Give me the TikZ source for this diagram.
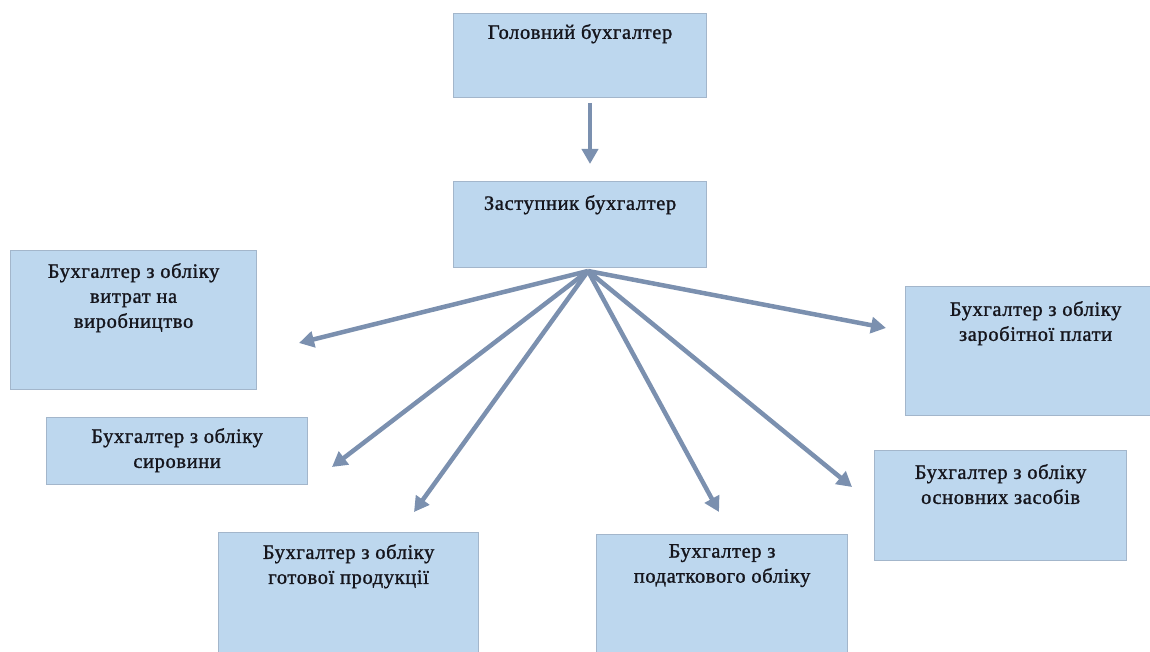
\documentclass[tikz,border=0pt]{standalone}
\usepackage{fontspec}
\setmainfont{Liberation Serif}
\usetikzlibrary{arrows.meta}
\definecolor{boxfill}{HTML}{BDD7EE}
\definecolor{boxline}{HTML}{A3B6CB}
\definecolor{arrowc}{HTML}{7B90AF}
\definecolor{txt}{HTML}{15151C}
\tikzset{
  box/.style={draw=boxline, fill=boxfill, line width=1.2pt, rectangle, inner sep=0pt, anchor=north west},
  lbl/.style={font=\addfontfeature{LetterSpace=3,FakeBold=1.2}\fontsize{20.5}{25}\selectfont, text=txt, align=center, anchor=north, inner sep=0pt},
  conn/.style={draw=arrowc, line width=4.5pt, -{Triangle[length=15pt,width=16pt]}}
}
\begin{document}
\begin{tikzpicture}[x=1pt,y=-1pt]
\useasboundingbox (0,0) rectangle (1150,652);
% boxes
\node[box, minimum width=253pt, minimum height=84pt] (head) at (453,13) {};
\node[box, minimum width=253pt, minimum height=86pt] (dep) at (453,181) {};
\node[box, minimum width=246pt, minimum height=139pt] (vytr) at (10,250) {};
\node[box, minimum width=261pt, minimum height=67pt] (syr) at (46,417) {};
\node[box, minimum width=260pt, minimum height=140pt] (got) at (218,532) {};
\node[box, minimum width=251pt, minimum height=140pt] (pod) at (596,534) {};
\node[box, minimum width=260pt, minimum height=129pt] (zar) at (905,286) {};
\node[box, minimum width=252pt, minimum height=110pt] (osn) at (874,450) {};
% labels
\node[lbl] (headt) at ([yshift=-11pt]head.north) {Головний бухгалтер};
\node[lbl] (dept) at ([yshift=-14pt]dep.north) {Заступник бухгалтер};
\node[lbl] (vytrt) at ([yshift=-13pt]vytr.north) {Бухгалтер з обліку\\витрат на\\виробництво};
\node[lbl] (syrt) at ([yshift=-11pt]syr.north) {Бухгалтер з обліку\\сировини};
\node[lbl] (gott) at ([yshift=-12pt]got.north) {Бухгалтер з обліку\\готової продукції};
\node[lbl] (podt) at ([yshift=-10pt]pod.north) {Бухгалтер з\\податкового обліку};
\node[lbl] (zart) at ([yshift=-15pt]zar.north) {Бухгалтер з обліку\\заробітної плати};
\node[lbl] (osnt) at ([yshift=-14pt]osn.north) {Бухгалтер з обліку\\основних засобів};
% arrow points
\coordinate (topS) at (590,103);
\coordinate (topE) at (590,164);
\coordinate (o) at (588,271);
\coordinate (eVytr) at (299,343);
\coordinate (eSyr) at (332,467);
\coordinate (eGot) at (414,512);
\coordinate (ePod) at (719,512);
\coordinate (eOsn) at (852,487);
\coordinate (eZar) at (886,328);
% connectors
\draw[conn] (topS) -- (topE);
\draw[conn] (o) -- (eVytr);
\draw[conn] (o) -- (eSyr);
\draw[conn] (o) -- (eGot);
\draw[conn] (o) -- (ePod);
\draw[conn] (o) -- (eOsn);
\draw[conn] (o) -- (eZar);
\end{tikzpicture}
\end{document}
